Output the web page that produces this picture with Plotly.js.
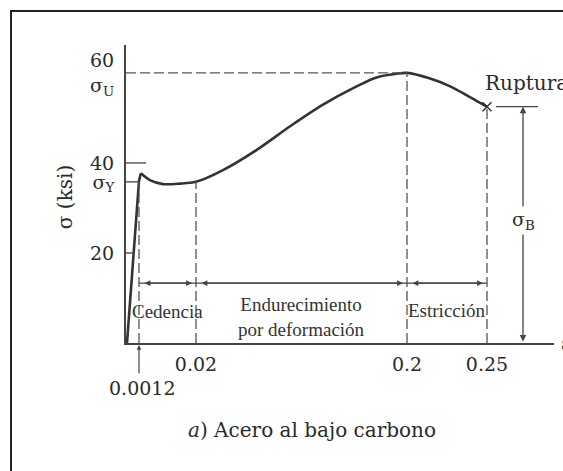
<!DOCTYPE html>
<html><head><meta charset="utf-8">
<script src="https://cdn.plot.ly/plotly-3.0.1.min.js"></script>
<style>html,body{margin:0;padding:0;background:#fff}</style>
</head><body>
<div id="chart" style="width:563px;height:471px"></div>
<script>
// ---- Data (strain ε, stress σ in ksi) ----
const elasticStrain = [0, 0.0012, 0.0018];
const elasticStress = [0, 36.0, 37.7];
const plasticStrain = [0.0018, 0.0048, 0.0091, 0.0147, 0.02, 0.043, 0.0718, 0.100, 0.128, 0.157, 0.174, 0.191, 0.2, 0.214, 0.227, 0.239, 0.25];
const plasticStress = [37.7, 36.2, 35.3, 35.4, 35.8, 38.4, 42.9, 48.1, 52.9, 57.0, 59.0, 59.8, 60.0, 58.8, 57.0, 54.7, 52.5];
const keyStrains = [0.0012, 0.02, 0.2, 0.25];
const keyStrainLabels = ['0.0012', '0.02', '0.2', '0.25'];
const stressTickVals = [20, 35.8, 40, 60];
const stressTickText = ['20', 'σ<sub>Y</sub>', '40', '60<br>σ<sub>U</sub>'];
const sigmaY = 35.8, sigmaU = 60, sigmaB = 52.5;
const regionNames = ['Cedencia', 'Endurecimiento<br>por deformación', 'Estricción'];

// The figure is schematic (not to scale along ε): piecewise axis scale
const scaleStrain = [0, 0.0012, 0.02, 0.2, 0.25];
const scaleAxis = [1, 13, 70, 281, 361];
function X(e) {
  const n = scaleStrain.length;
  for (let i = 1; i < n; i++) {
    if (e <= scaleStrain[i] || i === n - 1) {
      const t = (e - scaleStrain[i-1]) / (scaleStrain[i] - scaleStrain[i-1]);
      return scaleAxis[i-1] + t * (scaleAxis[i] - scaleAxis[i-1]);
    }
  }
}

const INK = '#333';
const DASH = '10px,4px';
const serif = 'DejaVu Serif, serif';
const serif2 = 'Liberation Serif, Times New Roman, serif';

const traces = [
  {x: elasticStrain.map(X), y: elasticStress, mode: 'lines', line: {color: INK, width: 2.6}, hoverinfo: 'skip'},
  {x: plasticStrain.map(X), y: plasticStress, mode: 'lines', line: {color: INK, width: 2.6, shape: 'spline', smoothing: 0.8}, hoverinfo: 'skip'},
  {x: [X(0.25)], y: [sigmaB], mode: 'markers', marker: {symbol: 'x-thin', size: 9, line: {color: INK, width: 1.5}}, hoverinfo: 'skip'}
];

const dashLine = {color: '#555', width: 1.3, dash: DASH};
const solid = {color: '#444', width: 1.3};
const xB = X(0.25) + 36;
const shapes = [
  {type: 'line', xref: 'x', yref: 'y', x0: 0, x1: X(0.2), y0: sigmaU, y1: sigmaU, line: dashLine},
  {type: 'line', xref: 'x', yref: 'y', x0: X(0.0012), x1: X(0.0012), y0: 0, y1: sigmaY, line: dashLine},
  {type: 'line', xref: 'x', yref: 'y', x0: X(0.02), x1: X(0.02), y0: 0, y1: sigmaY, line: dashLine},
  {type: 'line', xref: 'x', yref: 'y', x0: X(0.2), x1: X(0.2), y0: 0, y1: sigmaU, line: dashLine},
  {type: 'line', xref: 'x', yref: 'y', x0: X(0.25), x1: X(0.25), y0: 0, y1: sigmaB, line: dashLine},
  // short tick marks on the σ axis
  {type: 'line', xref: 'x', yref: 'y', x0: 0, x1: 20, y0: 40, y1: 40, line: solid},
  {type: 'line', xref: 'x', yref: 'y', x0: -2, x1: 12, y0: sigmaY, y1: sigmaY, line: solid},
  {type: 'line', xref: 'x', yref: 'y', x0: -6, x1: 9, y0: 20, y1: 20, line: solid},
  // region dimension line
  {type: 'line', xref: 'x', yref: 'y', x0: X(0.0012), x1: X(0.25), y0: 13.3, y1: 13.3, line: {color: '#444', width: 1.3}},
  // σB reference line
  {type: 'line', xref: 'x', yref: 'y', x0: X(0.25) + 9, x1: X(0.25) + 51, y0: sigmaB, y1: sigmaB, line: solid},
  // frame
  {type: 'rect', xref: 'paper', yref: 'paper', x0: -0.2687, x1: 1.2, y0: -0.6, y1: 1.114, line: {color: '#222', width: 2}}
];

const annotations = [];
const tickFont = {family: serif, size: 19, color: '#2a2a2a'};
// 0.0012 label with arrow
annotations.push({x: X(0.0012), y: 0, xref: 'x', yref: 'y', text: '', showarrow: true, ax: 0, ay: 32,
  arrowhead: 2, arrowsize: 0.8, arrowwidth: 1.2, arrowcolor: '#444', standoff: 2});
annotations.push({x: X(0.0012) + 3, y: 0, xref: 'x', yref: 'y', yshift: -45, text: keyStrainLabels[0],
  showarrow: false, font: tickFont});
// region arrows and labels
for (let i = 0; i < 3; i++) {
  const a = X(keyStrains[i]), b = X(keyStrains[i+1]);
  annotations.push({x: b, y: 13.3, ax: a, ay: 13.3, xref: 'x', yref: 'y', axref: 'x', ayref: 'y', text: '',
    showarrow: true, arrowside: 'end+start', arrowhead: 2, arrowsize: 0.9, arrowwidth: 1.3, arrowcolor: '#444',
    standoff: 4, startstandoff: 4});
}
const regionY = [6.9, 5.7, 7.3];
for (let i = 0; i < 3; i++) {
  annotations.push({x: (X(keyStrains[i]) + X(keyStrains[i+1])) / 2, y: regionY[i], xref: 'x', yref: 'y',
    text: regionNames[i], showarrow: false, font: {family: serif2, size: 19, color: '#333'}});
}
// σB dimension arrow
annotations.push({x: xB, y: sigmaB, ax: xB, ay: 0, xref: 'x', yref: 'y', axref: 'x', ayref: 'y', text: '',
  showarrow: true, arrowside: 'end+start', arrowhead: 2, arrowsize: 1, arrowwidth: 1.3, arrowcolor: '#444'});
annotations.push({x: xB, y: 27.3, xref: 'x', yref: 'y', text: 'σ<sub>B</sub>', showarrow: false,
  bgcolor: '#fff', font: {family: serif, size: 19, color: '#2a2a2a'}});
// Ruptura
annotations.push({x: X(0.25) - 4, y: 57.8, xref: 'x', yref: 'y', xanchor: 'left', text: 'Ruptura',
  showarrow: false, font: {family: serif, size: 20, color: '#2a2a2a'}});
// ε at axis end
annotations.push({x: 1.0117, y: 0, xref: 'paper', yref: 'y', xanchor: 'left', yanchor: 'middle', text: 'ε',
  showarrow: false, font: {family: serif, size: 19, color: '#2a2a2a'}});
// y title
annotations.push({x: -0.1425, y: 32.4, xref: 'paper', yref: 'y', xanchor: 'center', yanchor: 'middle',
  text: 'σ (ksi)', textangle: -90, showarrow: false, font: {family: serif, size: 20, color: '#2a2a2a'}});
// caption
annotations.push({x: 0.4357, y: -0.292, xref: 'paper', yref: 'paper', xanchor: 'center', yanchor: 'middle',
  text: '<i>a</i>) Acero al bajo carbono', showarrow: false, font: {family: serif, size: 20, color: '#2a2a2a'}});

const layout = {
  width: 563, height: 471,
  margin: {l: 126, r: 9, t: 45, b: 128},
  paper_bgcolor: '#fff', plot_bgcolor: '#fff',
  showlegend: false,
  xaxis: {range: [0, 428], showgrid: false, zeroline: false, showline: true, linecolor: '#444', linewidth: 2,
    tickmode: 'array', tickvals: keyStrains.slice(1).map(X), ticktext: keyStrainLabels.slice(1),
    ticks: '', ticklabelstandoff: 3, tickfont: tickFont, fixedrange: true},
  yaxis: {range: [0, 66.2], showgrid: false, zeroline: false, showline: true, linecolor: '#444', linewidth: 2,
    tickmode: 'array', tickvals: stressTickVals, ticktext: stressTickText, ticks: '', ticklabelstandoff: 6,
    tickfont: tickFont, fixedrange: true},
  shapes: shapes,
  annotations: annotations
};

Plotly.newPlot('chart', traces, layout, {displayModeBar: false, staticPlot: true});
</script>
</body></html>
